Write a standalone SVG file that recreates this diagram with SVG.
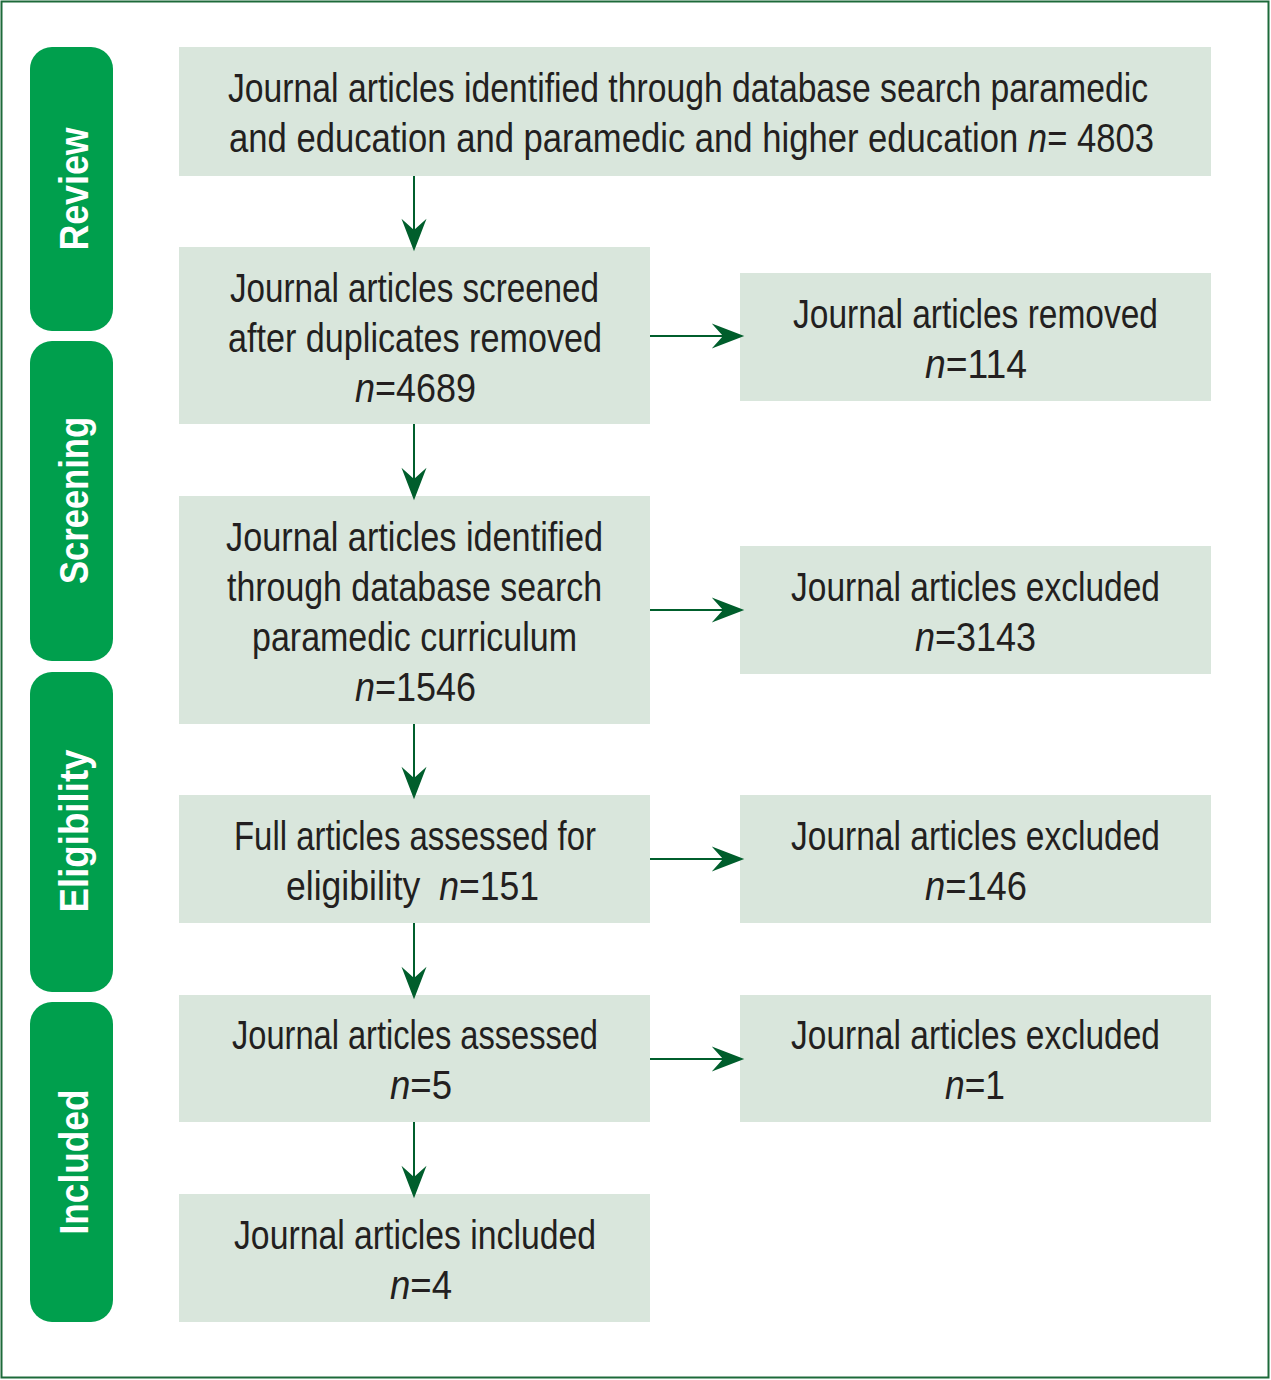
<svg xmlns="http://www.w3.org/2000/svg" width="1271" height="1380" viewBox="0 0 1271 1380">
<style>
.frame{fill:#ffffff;stroke:#1d6a3a;stroke-width:2}
.pill{fill:#009f4d}
.pt{font-family:"Liberation Sans",Arial,sans-serif;font-weight:bold;font-size:41px;fill:#ffffff}
.box{fill:#d9e6dc}
.t{font-family:"Liberation Sans",Arial,sans-serif;font-size:40px;fill:#231f20}
.i{font-style:italic}
.con path{fill:none;stroke:#005e2c;stroke-width:2}
</style>
<defs>
<marker id="ah" markerUnits="userSpaceOnUse" markerWidth="40" markerHeight="30" viewBox="-12 -12 32 24" refX="0" refY="0" orient="auto">
<path d="M-9,-10 L17,0 L-9,10 L0,0 z" fill="#005e2c"/>
</marker>
</defs>
<rect class="frame" x="1.5" y="1.5" width="1267" height="1376"/>

<g id="stage-review"><rect class="pill" x="30" y="47" width="83" height="284" rx="22"/><text class="pt" transform="translate(88,189) rotate(-90)" x="-61.5" textLength="123" lengthAdjust="spacingAndGlyphs">Review</text></g>
<g id="stage-screening"><rect class="pill" x="30" y="341" width="83" height="320" rx="22"/><text class="pt" transform="translate(88,500.5) rotate(-90)" x="-83.5" textLength="167" lengthAdjust="spacingAndGlyphs">Screening</text></g>
<g id="stage-eligibility"><rect class="pill" x="30" y="672" width="83" height="320" rx="22"/><text class="pt" transform="translate(88,831) rotate(-90)" x="-81.5" textLength="163" lengthAdjust="spacingAndGlyphs">Eligibility</text></g>
<g id="stage-included"><rect class="pill" x="30" y="1002" width="83" height="320" rx="22"/><text class="pt" transform="translate(88,1162) rotate(-90)" x="-72.5" textLength="145" lengthAdjust="spacingAndGlyphs">Included</text></g>

<g id="identified">
<rect class="box" x="179" y="47" width="1032" height="129"/>
<text class="t" x="228" y="102" textLength="920" lengthAdjust="spacingAndGlyphs">Journal articles identified through database search paramedic</text>
<text class="t" x="229" y="152" textLength="925" lengthAdjust="spacingAndGlyphs">and education and paramedic and higher education <tspan class="i">n</tspan>= 4803</text>
</g>
<g id="screened">
<rect class="box" x="179" y="247" width="471" height="177"/>
<text class="t" x="230" y="302" textLength="369" lengthAdjust="spacingAndGlyphs">Journal articles screened</text>
<text class="t" x="228" y="352" textLength="374" lengthAdjust="spacingAndGlyphs">after duplicates removed</text>
<text class="t" x="355" y="402" textLength="121" lengthAdjust="spacingAndGlyphs"><tspan class="i">n</tspan>=4689</text>
</g>
<g id="removed">
<rect class="box" x="740" y="273" width="471" height="128"/>
<text class="t" x="793" y="328" textLength="365" lengthAdjust="spacingAndGlyphs">Journal articles removed</text>
<text class="t" x="925" y="378" textLength="102" lengthAdjust="spacingAndGlyphs"><tspan class="i">n</tspan>=114</text>
</g>
<g id="curriculum">
<rect class="box" x="179" y="496" width="471" height="228"/>
<text class="t" x="226" y="551" textLength="377" lengthAdjust="spacingAndGlyphs">Journal articles identified</text>
<text class="t" x="227" y="601" textLength="375" lengthAdjust="spacingAndGlyphs">through database search</text>
<text class="t" x="252" y="651" textLength="325" lengthAdjust="spacingAndGlyphs">paramedic curriculum</text>
<text class="t" x="355" y="701" textLength="121" lengthAdjust="spacingAndGlyphs"><tspan class="i">n</tspan>=1546</text>
</g>
<g id="excluded1">
<rect class="box" x="740" y="546" width="471" height="128"/>
<text class="t" x="791" y="601" textLength="369" lengthAdjust="spacingAndGlyphs">Journal articles excluded</text>
<text class="t" x="915" y="651" textLength="121" lengthAdjust="spacingAndGlyphs"><tspan class="i">n</tspan>=3143</text>
</g>
<g id="fulltext">
<rect class="box" x="179" y="795" width="471" height="128"/>
<text class="t" x="234" y="850" textLength="362" lengthAdjust="spacingAndGlyphs">Full articles assessed for</text>
<text class="t" x="286" y="900" textLength="253" lengthAdjust="spacingAndGlyphs">eligibility <tspan class="i" dx="10">n</tspan>=151</text>
</g>
<g id="excluded2">
<rect class="box" x="740" y="795" width="471" height="128"/>
<text class="t" x="791" y="850" textLength="369" lengthAdjust="spacingAndGlyphs">Journal articles excluded</text>
<text class="t" x="925" y="900" textLength="102" lengthAdjust="spacingAndGlyphs"><tspan class="i">n</tspan>=146</text>
</g>
<g id="assessed">
<rect class="box" x="179" y="995" width="471" height="127"/>
<text class="t" x="232" y="1049" textLength="366" lengthAdjust="spacingAndGlyphs">Journal articles assessed</text>
<text class="t" x="390" y="1099" textLength="62" lengthAdjust="spacingAndGlyphs"><tspan class="i">n</tspan>=5</text>
</g>
<g id="excluded3">
<rect class="box" x="740" y="995" width="471" height="127"/>
<text class="t" x="791" y="1049" textLength="369" lengthAdjust="spacingAndGlyphs">Journal articles excluded</text>
<text class="t" x="945" y="1099" textLength="60" lengthAdjust="spacingAndGlyphs"><tspan class="i">n</tspan>=1</text>
</g>
<g id="included">
<rect class="box" x="179" y="1194" width="471" height="128"/>
<text class="t" x="234" y="1249" textLength="362" lengthAdjust="spacingAndGlyphs">Journal articles included</text>
<text class="t" x="390" y="1299" textLength="62" lengthAdjust="spacingAndGlyphs"><tspan class="i">n</tspan>=4</text>
</g>

<g id="connectors" class="con">
<path d="M414,176 V230" marker-end="url(#ah)"/>
<path d="M414,424 V479" marker-end="url(#ah)"/>
<path d="M414,724 V778" marker-end="url(#ah)"/>
<path d="M414,923 V978" marker-end="url(#ah)"/>
<path d="M414,1122 V1177" marker-end="url(#ah)"/>
<path d="M650,336 H723" marker-end="url(#ah)"/>
<path d="M650,610 H723" marker-end="url(#ah)"/>
<path d="M650,859 H723" marker-end="url(#ah)"/>
<path d="M650,1059 H723" marker-end="url(#ah)"/>
</g>
</svg>
